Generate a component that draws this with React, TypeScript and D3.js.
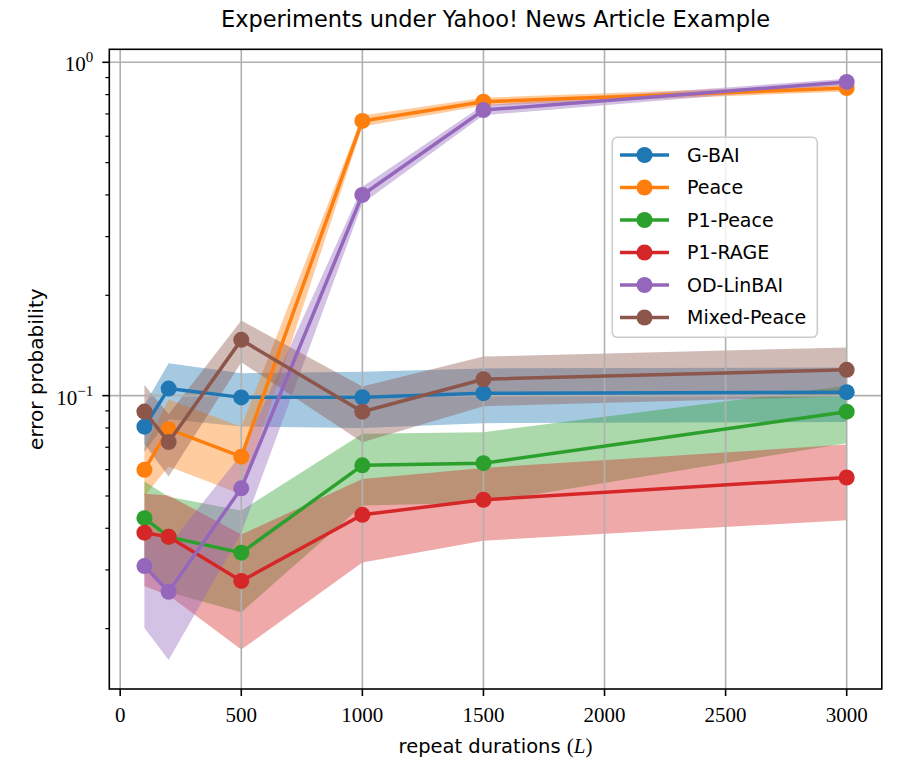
import * as d3 from 'd3';
import React, { useEffect, useRef } from 'react';

// repeat durations on the x axis
const durations = [100, 200, 500, 1000, 1500, 3000];
const xTicks = [0, 500, 1000, 1500, 2000, 2500, 3000];
const yMajorTicks = [0.1, 1];
const yMajorLabels = ['\u22121', '0'];
const yMinorTicks = [0.02, 0.03, 0.04, 0.05, 0.06, 0.07, 0.08, 0.09, 0.2, 0.3, 0.4, 0.5, 0.6, 0.7, 0.8, 0.9];
const xLimits = [-45, 3145];
const yLimits = [0.01318, 1.094];

const names = ['G-BAI', 'Peace', 'P1-Peace', 'P1-RAGE', 'OD-LinBAI', 'Mixed-Peace'];
const colors = ['#1f77b4', '#ff7f0e', '#2ca02c', '#d62728', '#9467bd', '#8c564b'];

// mean error probability and spread (shaded band = mean +/- spread)
const gBai = [0.0807, 0.105, 0.0988, 0.0989, 0.1017, 0.1024];
const gBaiStd = [0.013, 0.02, 0.018, 0.019, 0.019, 0.019];
const peace = [0.0599, 0.0793, 0.0656, 0.667, 0.762, 0.837];
const peaceStd = [0.01, 0.018, 0.015, 0.025, 0.021, 0.02];
const p1Peace = [0.0429, 0.0377, 0.0338, 0.0618, 0.0627, 0.0895];
const p1PeaceStd = [0.0124, 0.012, 0.0114, 0.015, 0.015, 0.0175];
const p1Rage = [0.0388, 0.0377, 0.0278, 0.0439, 0.0487, 0.0568];
const p1RageStd = [0.012, 0.0125, 0.0105, 0.0123, 0.012, 0.0145];
const odLinBai = [0.0308, 0.0258, 0.0527, 0.4, 0.719, 0.873];
const odLinBaiStd = [0.0107, 0.0097, 0.014, 0.023, 0.025, 0.02];
const mixedPeace = [0.0896, 0.0726, 0.147, 0.0895, 0.112, 0.1195];
const mixedPeaceStd = [0.018, 0.0154, 0.021, 0.017, 0.019, 0.02];

const means = [gBai, peace, p1Peace, p1Rage, odLinBai, mixedPeace];
const spreads = [gBaiStd, peaceStd, p1PeaceStd, p1RageStd, odLinBaiStd, mixedPeaceStd];

const SANS = '"DejaVu Sans", sans-serif';
const SERIF = '"Liberation Serif", "DejaVu Serif", serif';

export default () => {
    const ref = useRef<any>();

    useEffect(() => {
        const dims = { width: 900, height: 776, left: 109.3, top: 49.3, right: 881.8, bottom: 689 };

        const svg = d3.select<any, any>(ref.current);
        svg.selectAll('*').remove();

        const xScale = d3.scaleLinear().domain(xLimits).range([dims.left, dims.right]);
        const yScale = d3.scaleLog().domain(yLimits).range([dims.bottom, dims.top]);

        svg.append('defs').append('clipPath').attr('id', 'plot-clip')
            .append('rect')
            .attr('x', dims.left).attr('y', dims.top)
            .attr('width', dims.right - dims.left).attr('height', dims.bottom - dims.top);

        const series = names.map((name, i) => ({
            name,
            color: colors[i],
            points: durations.map((d, j) => ({ x: d, y: means[i][j], s: spreads[i][j] })),
        }));

        // bands
        const area = d3.area<any>()
            .x((d) => xScale(d.x))
            .y0((d) => yScale(Math.max(d.y - d.s, 1e-4)))
            .y1((d) => yScale(d.y + d.s));
        const bands = svg.append('g').attr('clip-path', 'url(#plot-clip)');
        series.forEach((s) => {
            bands.append('path').attr('d', area(s.points)).attr('fill', s.color).attr('fill-opacity', 0.4);
        });

        // grid (above the bands, below the lines)
        const grid = svg.append('g').attr('stroke', '#b0b0b0').attr('stroke-width', 1.6);
        xTicks.forEach((t) => {
            grid.append('line').attr('x1', xScale(t)).attr('x2', xScale(t)).attr('y1', dims.top).attr('y2', dims.bottom);
        });
        yMajorTicks.forEach((t) => {
            grid.append('line').attr('x1', dims.left).attr('x2', dims.right).attr('y1', yScale(t)).attr('y2', yScale(t));
        });

        // lines + markers
        const line = d3.line<any>().x((d) => xScale(d.x)).y((d) => yScale(d.y));
        const data = svg.append('g').attr('clip-path', 'url(#plot-clip)');
        series.forEach((s) => {
            const g = data.append('g');
            g.append('path').attr('d', line(s.points)).attr('fill', 'none')
                .attr('stroke', s.color).attr('stroke-width', 3.5).attr('stroke-linejoin', 'round');
            g.selectAll('circle').data(s.points).join('circle')
                .attr('cx', (d: any) => xScale(d.x)).attr('cy', (d: any) => yScale(d.y))
                .attr('r', 8).attr('fill', s.color);
        });

        // frame
        svg.append('rect')
            .attr('x', dims.left).attr('y', dims.top)
            .attr('width', dims.right - dims.left).attr('height', dims.bottom - dims.top)
            .attr('fill', 'none').attr('stroke', '#000').attr('stroke-width', 1.6);

        // x ticks
        const xAxis = svg.append('g');
        xTicks.forEach((t) => {
            xAxis.append('line').attr('x1', xScale(t)).attr('x2', xScale(t))
                .attr('y1', dims.bottom).attr('y2', dims.bottom + 7).attr('stroke', '#000').attr('stroke-width', 1.6);
            xAxis.append('text').attr('x', xScale(t)).attr('y', dims.bottom + 33)
                .attr('text-anchor', 'middle').attr('font-family', SERIF).attr('font-size', 21).text(t);
        });

        // y ticks
        const yAxis = svg.append('g');
        yMajorTicks.forEach((t, i) => {
            yAxis.append('line').attr('x1', dims.left - 7).attr('x2', dims.left)
                .attr('y1', yScale(t)).attr('y2', yScale(t)).attr('stroke', '#000').attr('stroke-width', 1.6);
            const label = yAxis.append('text').attr('x', dims.left - 16).attr('y', yScale(t) + 9)
                .attr('text-anchor', 'end').attr('font-family', SERIF).attr('font-size', 21);
            label.append('tspan').text('10');
            label.append('tspan').attr('dy', -9).attr('font-size', 15).text(yMajorLabels[i]);
        });
        yMinorTicks.forEach((t) => {
            yAxis.append('line').attr('x1', dims.left - 4).attr('x2', dims.left)
                .attr('y1', yScale(t)).attr('y2', yScale(t)).attr('stroke', '#000').attr('stroke-width', 1.2);
        });

        // labels
        const midX = (dims.left + dims.right) / 2;
        svg.append('text').attr('x', midX).attr('y', 27).attr('text-anchor', 'middle')
            .attr('font-family', SANS).attr('font-size', 22.5)
            .text('Experiments under Yahoo! News Article Example');

        const xLabel = svg.append('text').attr('x', midX).attr('y', 753).attr('text-anchor', 'middle')
            .attr('font-family', SANS).attr('font-size', 19.5);
        xLabel.append('tspan').text('repeat durations ');
        xLabel.append('tspan').attr('font-family', SERIF).attr('font-size', 21).text('(');
        xLabel.append('tspan').attr('font-family', SERIF).attr('font-size', 21).attr('font-style', 'italic').text('L');
        xLabel.append('tspan').attr('font-family', SERIF).attr('font-size', 21).text(')');

        svg.append('text').attr('transform', `translate(43, ${(dims.top + dims.bottom) / 2}) rotate(-90)`)
            .attr('text-anchor', 'middle').attr('font-family', SANS).attr('font-size', 20)
            .text('error probability');

        // legend
        const legend = svg.append('g');
        legend.append('rect').attr('x', 612.3).attr('y', 137.3).attr('width', 205).attr('height', 200)
            .attr('rx', 5).attr('fill', '#fff').attr('fill-opacity', 0.8)
            .attr('stroke', '#cccccc').attr('stroke-width', 1.6);
        series.forEach((s, i) => {
            const yy = 155 + i * 32.5;
            legend.append('line').attr('x1', 620).attr('x2', 669).attr('y1', yy).attr('y2', yy)
                .attr('stroke', s.color).attr('stroke-width', 3.5);
            legend.append('circle').attr('cx', 644.5).attr('cy', yy).attr('r', 8).attr('fill', s.color);
            legend.append('text').attr('x', 687).attr('y', yy).attr('dy', '0.36em')
                .attr('font-family', SANS).attr('font-size', 19).text(s.name);
        });
    });

    return (
        <svg ref={ref} width={900} height={776}
            style={{ position: 'absolute', left: 0, top: 0, background: '#fff' }}></svg>
    );
};
